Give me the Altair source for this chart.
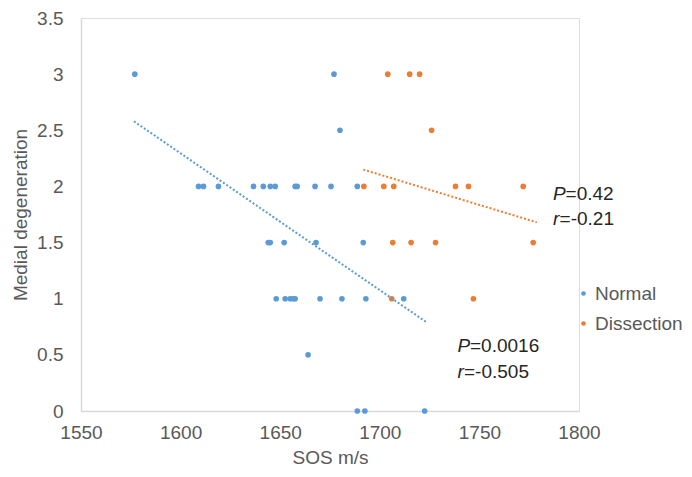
import altair as alt
import pandas as pd

# ---- data ----
normal_x = [1577, 1677, 1680,
            1609, 1611.5, 1619, 1636.6, 1641.5, 1645, 1647.5, 1657.5, 1658.5, 1667.5, 1675.5, 1688.7,
            1644, 1645, 1652, 1668, 1691.7,
            1648, 1652.5, 1655, 1656.5, 1657.5, 1670, 1681, 1693, 1712,
            1664,
            1688.7, 1692.5, 1722.5]
normal_y = [3, 3, 2.5,
            2, 2, 2, 2, 2, 2, 2, 2, 2, 2, 2, 2,
            1.5, 1.5, 1.5, 1.5, 1.5,
            1, 1, 1, 1, 1, 1, 1, 1, 1,
            0.5,
            0, 0, 0]
diss_x = [1704, 1715, 1720,
          1726,
          1692, 1702, 1707, 1738, 1744.5, 1772,
          1706.5, 1715.7, 1728, 1777,
          1706, 1747]
diss_y = [3, 3, 3,
          2.5,
          2, 2, 2, 2, 2, 2,
          1.5, 1.5, 1.5, 1.5,
          1, 1]

trend_group = ["Normal", "Normal", "Dissection", "Dissection"]
trend_x = [1576.6, 1723.5, 1691.7, 1778.8]
trend_y = [2.58, 0.79, 2.15, 1.68]

annot_x = [1787, 1787, 1739, 1739]
annot_y = [1.93, 1.71, 0.58, 0.35]
annot_sym = ["P", "r", "P", "r"]
annot_val = ["=0.42", "=-0.21", "=0.0016", "=-0.505"]

groups = ["Normal", "Dissection"]
colors = ["#5B9BD5", "#ED7D31"]
x_ticks = [1550, 1600, 1650, 1700, 1750, 1800]
y_ticks = [0, 0.5, 1, 1.5, 2, 2.5, 3, 3.5]

FONT = "Liberation Sans"

pts = pd.DataFrame({
    "sos": normal_x + diss_x,
    "deg": normal_y + diss_y,
    "group": ["Normal"] * len(normal_x) + ["Dissection"] * len(diss_x),
})
tr = pd.DataFrame({"sos": trend_x, "deg": trend_y, "group": trend_group})
an = pd.DataFrame({"sos": annot_x, "deg": annot_y, "sym": annot_sym, "val": annot_val})

xscale = alt.Scale(domain=[1550, 1800], nice=False, zero=False)
yscale = alt.Scale(domain=[0, 3.5], nice=False)

xaxis = alt.Axis(values=x_ticks, format="d", title="SOS m/s", grid=False, ticks=False,
                 labelFlush=False, labelOverlap=False,
                 domainColor="#D9D9D9", domainWidth=1.5, labelColor="#595959", titleColor="#595959",
                 labelFontSize=19, titleFontSize=19, labelFont=FONT, titleFont=FONT,
                 titleFontWeight="normal", labelPadding=12, titlePadding=6)
yaxis = alt.Axis(values=y_ticks, format=".1~f", title="Medial degeneration", grid=False, ticks=False,
                 labelFlush=False, labelOverlap=False,
                 domainColor="#D9D9D9", domainWidth=1.5, labelColor="#595959", titleColor="#595959",
                 labelFontSize=19, titleFontSize=19, labelFont=FONT, titleFont=FONT,
                 titleFontWeight="normal", labelPadding=18, titlePadding=6)

points = alt.Chart(pts).mark_circle(size=32, opacity=1).encode(
    x=alt.X("sos:Q", scale=xscale, axis=xaxis),
    y=alt.Y("deg:Q", scale=yscale, axis=yaxis),
    color=alt.Color("group:N", scale=alt.Scale(domain=groups, range=colors),
                    legend=alt.Legend(title=None, orient="none", legendX=493, legendY=266,
                                      symbolType="circle", symbolSize=22, rowPadding=10,
                                      labelFontSize=19, labelFont=FONT, labelColor="#595959",
                                      symbolStrokeWidth=0, labelOffset=2)),
)

def trend(group, color):
    return alt.Chart(tr).transform_filter(alt.datum.group == group).mark_line(
        strokeDash=[2, 2], strokeWidth=2, color=color).encode(
        x=alt.X("sos:Q", scale=xscale),
        y=alt.Y("deg:Q", scale=yscale),
    )

def annot(sym, dx):
    base = alt.Chart(an).transform_filter(alt.datum.sym == sym)
    it = base.mark_text(align="left", baseline="middle", fontSize=19, font=FONT,
                        fontStyle="italic", color="#262626").encode(
        x=alt.X("sos:Q", scale=xscale), y=alt.Y("deg:Q", scale=yscale), text="sym:N")
    rest = base.mark_text(align="left", baseline="middle", fontSize=19, font=FONT,
                          color="#262626", dx=dx).encode(
        x=alt.X("sos:Q", scale=xscale), y=alt.Y("deg:Q", scale=yscale), text="val:N")
    return it + rest

chart = alt.layer(points, trend("Normal", colors[0]), trend("Dissection", colors[1]),
                  annot("P", 12.5), annot("r", 6.5)).properties(
    width=498, height=393,
    autosize=alt.AutoSizeParams(type="none"),
    padding={"left": 73, "top": 10, "right": 105, "bottom": 60},
).configure_view(stroke=None).configure(background="white")

chart.save("out.html", embed_options={"renderer": "svg", "actions": False})
